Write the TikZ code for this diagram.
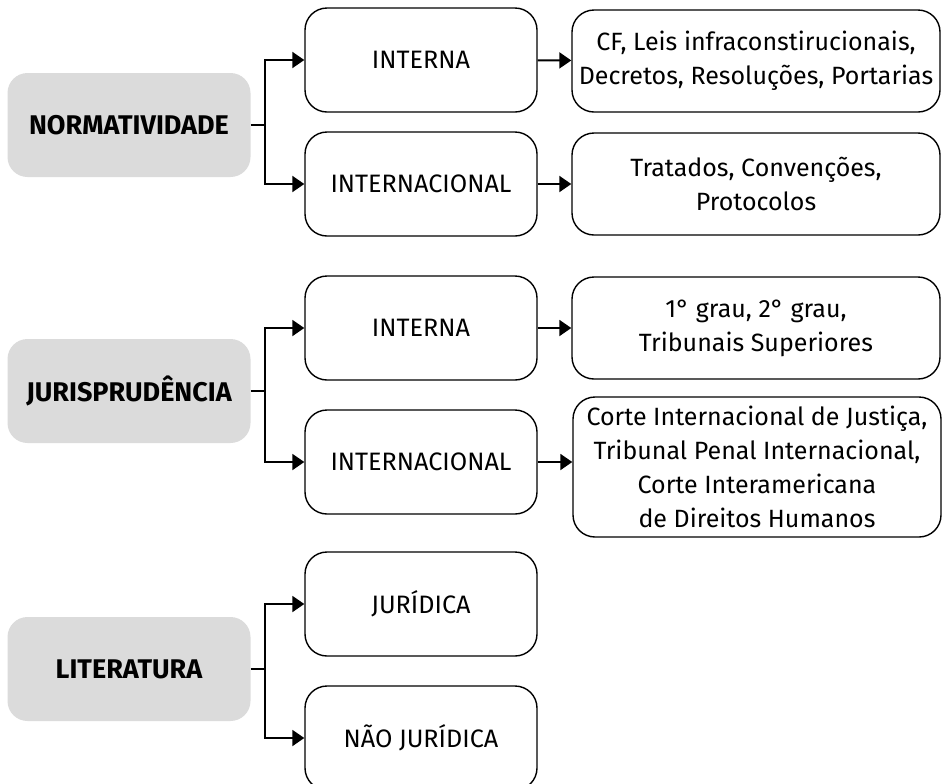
\documentclass[tikz,border=0pt]{standalone}
\usepackage{fontspec}
\setmainfont{Fira Sans}
\usetikzlibrary{arrows.meta,positioning}
\tikzset{
  catbox/.style={fill=black!14, rounded corners=10pt, minimum width=121.5pt,
    minimum height=52pt, font=\bfseries\fontsize{13.5}{16}\selectfont},
  subbox/.style={draw, line width=0.7pt, rounded corners=11pt, minimum width=116pt,
    minimum height=52pt, font=\fontsize{12.6}{15}\selectfont},
  detbox/.style={draw, line width=0.7pt, rounded corners=11pt, minimum width=184pt,
    minimum height=51pt, align=center, font=\fontsize{12.5}{17}\selectfont},
  link/.style={line width=1pt, -{Triangle[length=6pt,width=8pt]}},
}

\begin{document}
\begin{tikzpicture}[x=0.5pt, y=-0.5pt]
\useasboundingbox (0,0) rectangle (943,783);
\clip (0,0) rectangle (943,783);

% normatividade
\node [catbox] (norm) at (129,125) {NORMATIVIDADE};
\node [subbox] (normint) at (421,60) {INTERNA};
\node [subbox] (normext) at (421,184) {INTERNACIONAL};
\node [detbox] (normintd) at (756,61) {CF, Leis infraconstirucionais,\\Decretos, Resoluções, Portarias};
\node [detbox] (normextd) at (756,184) {Tratados, Convenções,\\Protocolos};

% jurisprudencia
\node [catbox] (juris) at (129,391) {JURISPRUDÊNCIA};
\node [subbox] (jurisint) at (421,328) {INTERNA};
\node [subbox] (jurisext) at (421,462) {INTERNACIONAL};
\node [detbox] (jurisintd) at (756,328) {1° grau, 2° grau,\\Tribunais Superiores};
\node [detbox, minimum height=70pt] (jurisextd) at (757,467) {Corte Internacional de Justiça,\\Tribunal Penal Internacional,\\Corte Interamericana\\de Direitos Humanos};

% literatura
\node [catbox] (lit) at (129,669) {LITERATURA};
\node [subbox] (litjur) at (421,604) {JURÍDICA};
\node [subbox] (litnjur) at (421,738) {NÃO JURÍDICA};

% ligacoes
\foreach \c/\a/\b in {norm/normint/normext, juris/jurisint/jurisext, lit/litjur/litnjur} {
  \draw [line width=1pt] (\c.east) -- ++(14,0) coordinate (\c j);
  \draw [link] (\c j) |- (\a.west);
  \draw [link] (\c j) |- (\b.west);
}
\draw [link] (normint) -- (normintd);
\draw [link] (normext) -- (normextd);
\draw [link] (jurisint) -- (jurisintd);
\draw [link] (jurisext) -- (jurisext -| jurisextd.west);
\end{tikzpicture}
\end{document}
